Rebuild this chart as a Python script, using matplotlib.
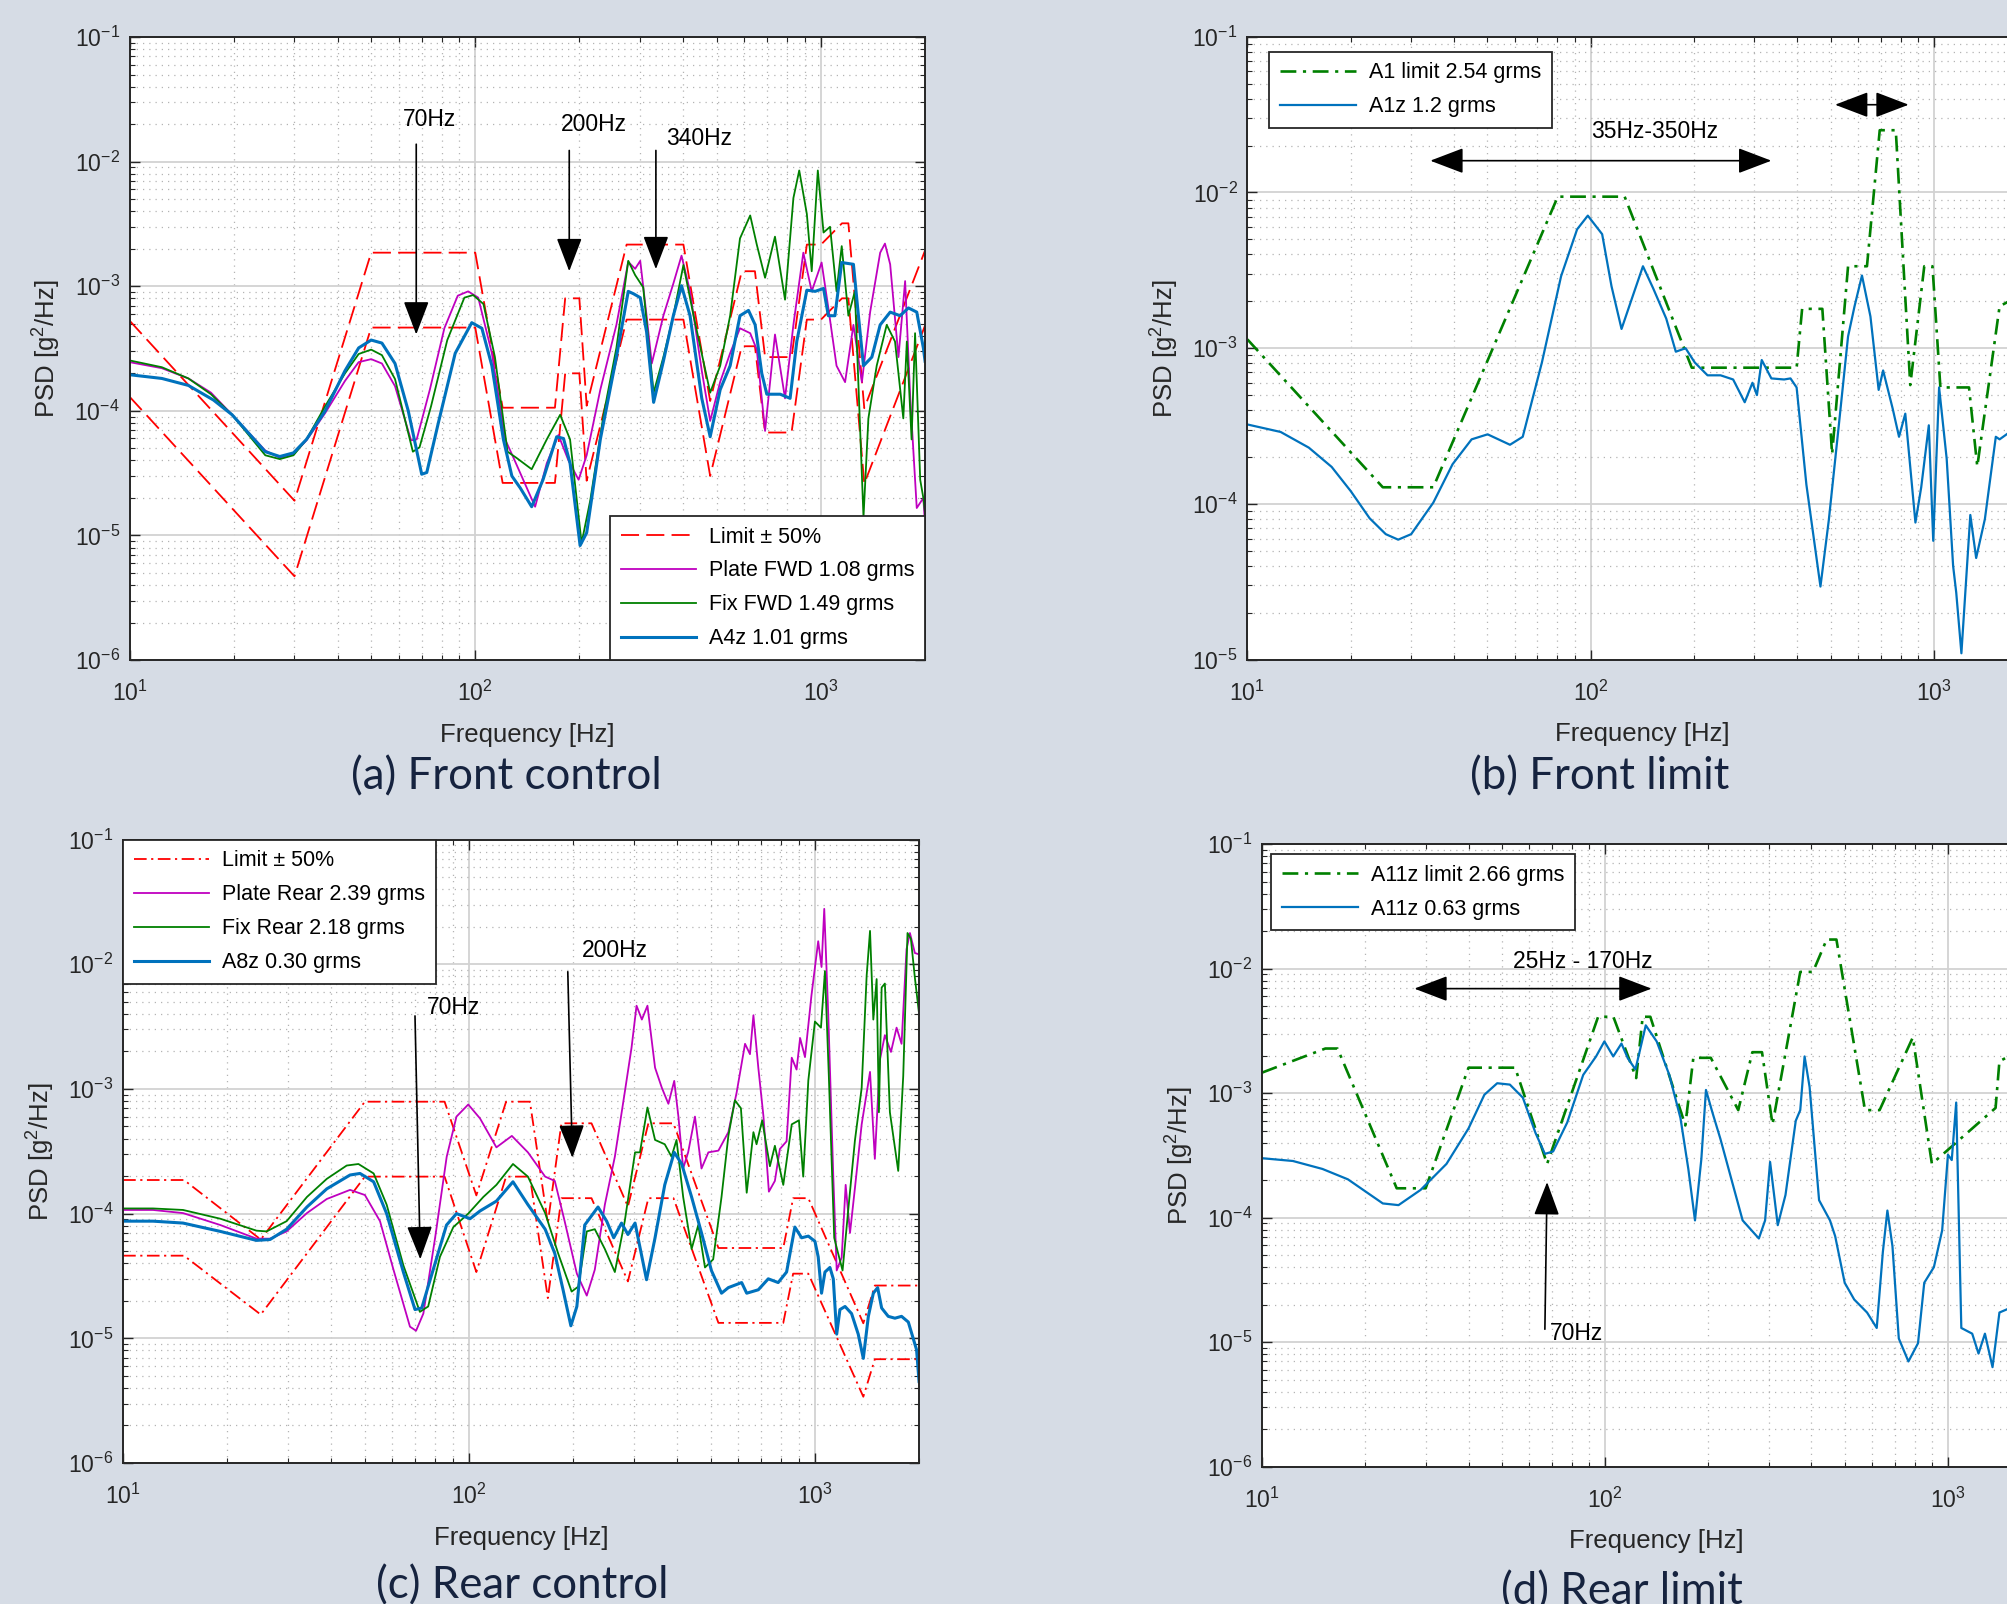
import numpy as np
import matplotlib
matplotlib.use('Agg')
import matplotlib.pyplot as plt
from matplotlib.ticker import LogLocator, NullFormatter

plt.rcParams['font.family'] = 'Liberation Sans'
plt.rcParams['mathtext.fontset'] = 'custom'
plt.rcParams['mathtext.rm'] = 'Liberation Sans'
plt.rcParams['mathtext.it'] = 'Liberation Sans:italic'
plt.rcParams['mathtext.bf'] = 'Liberation Sans:bold'
plt.rcParams['axes.unicode_minus'] = False

RED = '#FF0000'
MAG = '#BF00BF'
GRN = '#008000'
BLUE = '#0072BD'
INK = '#262626'

# ---------------- (a) Front control ----------------
f_lim_a = [10, 30, 50, 100, 120, 170, 182, 200, 210, 274, 400, 478, 590, 644, 689, 822,
           910, 1000, 1150, 1200, 1334, 2000]
up_lim_a = [5.3e-4, 1.9e-5, 1.86e-3, 1.86e-3, 1.06e-4, 1.06e-4, 8.0e-4, 8.0e-4, 1.1e-4, 2.16e-3,
            2.16e-3, 1.2e-4, 1.32e-3, 1.32e-3, 2.7e-4, 2.7e-4, 2.16e-3, 2.16e-3, 3.2e-3, 3.2e-3,
            1.05e-4, 1.94e-3]
lo_lim_a = [1.3e-4, 4.7e-6, 4.66e-4, 4.66e-4, 2.64e-5, 2.64e-5, 2.0e-4, 2.0e-4, 2.75e-5, 5.4e-4,
            5.4e-4, 3.0e-5, 3.3e-4, 3.3e-4, 6.7e-5, 6.7e-5, 5.4e-4, 5.4e-4, 8.0e-4, 8.0e-4,
            2.6e-5, 4.85e-4]

f_plate_a = [10, 12.4, 14.8, 17.2, 19.8, 24.7, 27.2, 29.8, 32.5, 36.8, 42, 46, 50, 53.7, 58.6,
             65.2, 67.7, 73.9, 81.4, 89, 95.4, 102, 111.7, 122, 129, 149, 161, 174, 186, 199,
             210, 230, 256, 277, 290, 300, 313, 324, 350, 374, 395, 418, 452, 478, 511, 546,
             583, 624, 652, 689, 736, 787, 832, 889, 940, 1004, 1050, 1109, 1174, 1241, 1313,
             1387, 1483, 1531, 1585, 1675, 1751, 1812, 1892, 1977, 2000]
psd_plate_a = [2.46e-4, 2.2e-4, 1.82e-4, 1.4e-4, 9.3e-5, 4.8e-5, 4.2e-5, 4.5e-5, 5.8e-5, 9.6e-5,
               1.74e-4, 2.46e-4, 2.6e-4, 2.4e-4, 1.58e-4, 5.8e-5, 5.9e-5, 1.48e-4, 4.6e-4, 8.4e-4,
               9.1e-4, 8.1e-4, 2.9e-4, 5.9e-5, 4.2e-5, 1.7e-5, 3.8e-5, 6.4e-5, 4.0e-5, 2.8e-5,
               4.4e-5, 1.48e-4, 4.9e-4, 1.57e-3, 1.38e-3, 1.6e-3, 5.8e-4, 2.4e-4, 5.8e-4, 1.05e-3,
               1.76e-3, 9.1e-4, 2.1e-4, 8.3e-5, 1.71e-4, 2.9e-4, 4.6e-4, 4.2e-4, 3.1e-4, 6.9e-5,
               4.1e-4, 1.26e-4, 4.9e-4, 1.86e-3, 9.1e-4, 1.55e-3, 6.7e-4, 2.3e-4, 1.7e-4, 4.9e-4,
               1.7e-4, 6.2e-4, 1.86e-3, 2.2e-3, 1.5e-3, 2.7e-4, 1.1e-3, 1.26e-4, 1.66e-5, 2.0e-5,
               1.2e-5]

f_fix_a = [10, 12.4, 14.8, 17.2, 19.8, 24.7, 27.2, 29.8, 32.5, 36.8, 42, 46, 50, 53.7, 58.6, 66,
           69, 74.5, 83, 93, 98.6, 105.6, 114, 124, 131.5, 145.6, 161, 176, 188, 203, 215, 235,
           256, 277, 290, 306, 328, 350, 374, 400, 428, 478, 511, 546, 583, 624, 652, 689, 736,
           787, 832, 865, 910, 940, 979, 1017, 1062, 1109, 1148, 1200, 1253, 1327, 1371, 1449,
           1549, 1637, 1730, 1771, 1828, 1871, 1936, 1977, 2000]
psd_fix_a = [2.54e-4, 2.24e-4, 1.82e-4, 1.36e-4, 9.3e-5, 4.4e-5, 4.1e-5, 4.4e-5, 5.9e-5, 1.09e-4,
             2.0e-4, 2.86e-4, 3.1e-4, 2.8e-4, 1.8e-4, 4.7e-5, 5.1e-5, 1.09e-4, 3.7e-4, 8.1e-4,
             8.5e-4, 7.2e-4, 2.7e-4, 4.7e-5, 4.2e-5, 3.4e-5, 5.9e-5, 9.3e-5, 5.9e-5, 8.7e-6,
             1.9e-5, 9.3e-5, 3.2e-4, 1.6e-3, 1.23e-3, 9.8e-4, 1.4e-4, 2.7e-4, 5.8e-4, 1.48e-3,
             5.8e-4, 1.4e-4, 2.3e-4, 5.8e-4, 2.42e-3, 3.7e-3, 2.16e-3, 1.17e-3, 2.5e-3, 7.8e-4,
             5.1e-3, 8.5e-3, 3.8e-3, 1.32e-3, 8.5e-3, 2.7e-3, 3.0e-3, 9.1e-4, 2.1e-3, 5.8e-4,
             9.1e-4, 1.4e-5, 8.7e-5, 2.3e-4, 4.9e-4, 3.6e-4, 8.7e-5, 3.6e-4, 5.9e-5, 4.2e-4,
             2.8e-5, 2.0e-5, 1.5e-5]

f_a4 = [10, 12.4, 14.8, 17.5, 19.8, 24.7, 27.2, 29.8, 32.5, 36.8, 42, 46, 50, 53.7, 58.6, 64, 70,
        72.4, 78.2, 87.5, 97.7, 104.5, 111.7, 120.6, 127.6, 135, 145.6, 157, 172, 180, 188, 201,
        210, 230, 256, 277, 287, 300, 313, 328, 350, 374, 395, 418, 452, 478, 511, 546, 583, 617,
        645, 674, 697, 762, 814, 851, 910, 962, 1017, 1050, 1097, 1148, 1241, 1283, 1327, 1403,
        1483, 1585, 1694, 1790, 1892, 1977, 2000]
psd_a4 = [1.95e-4, 1.82e-4, 1.6e-4, 1.22e-4, 9.3e-5, 4.7e-5, 4.3e-5, 4.6e-5, 5.9e-5, 1.0e-4,
          2.1e-4, 3.2e-4, 3.7e-4, 3.5e-4, 2.4e-4, 1.0e-4, 3.1e-5, 3.2e-5, 8.0e-5, 2.9e-4,
          5.1e-4, 4.6e-4, 2.3e-4, 5.9e-5, 3.0e-5, 2.4e-5, 1.7e-5, 2.8e-5, 6.2e-5, 6.0e-5,
          3.8e-5, 8.3e-6, 1.05e-5, 5.9e-5, 2.7e-4, 9.1e-4, 8.7e-4, 8.1e-4, 4.3e-4, 1.17e-4,
          2.5e-4, 5.8e-4, 1.01e-3, 5.8e-4, 1.26e-4, 6.2e-5, 1.48e-4, 2.3e-4, 5.8e-4, 6.4e-4,
          4.9e-4, 2.0e-4, 1.36e-4, 1.36e-4, 1.26e-4, 3.6e-4, 9.3e-4, 9.1e-4, 9.6e-4, 5.8e-4,
          5.8e-4, 1.55e-3, 1.5e-3, 5.8e-4, 2.3e-4, 2.7e-4, 4.9e-4, 6.2e-4, 5.8e-4, 6.7e-4,
          6.2e-4, 3.2e-4, 2.5e-4]

# ---------------- (b) Front limit ----------------
f_lim_b = [10, 24.8, 34.8, 80.2, 125.6, 197, 398, 413, 473, 505, 562, 638, 695, 774, 853, 937,
           990, 1044, 1265, 1337, 1553, 2000]
lim_b = [1.14e-3, 1.28e-4, 1.28e-4, 9.4e-3, 9.4e-3, 7.5e-4, 7.5e-4, 1.79e-3, 1.79e-3, 2.09e-4,
         3.36e-3, 3.36e-3, 0.0251, 0.0251, 5.8e-4, 3.36e-3, 3.36e-3, 5.6e-4, 5.6e-4, 1.74e-4,
         1.86e-3, 2.5e-3]

f_a1 = [10, 12.5, 15.1, 17.6, 20, 22.7, 25.3, 27.5, 30, 34.8, 39.6, 45, 50.1, 58.2, 63.4, 72.1,
        82, 91.3, 98.1, 108, 115, 123, 131, 142, 152, 166, 177, 189, 201, 219, 239, 260, 281,
        296, 305, 315, 336, 366, 382, 398, 425, 467, 494, 527, 562, 587, 617, 653, 690, 711, 758,
        791, 825, 883, 918, 966, 995, 1035, 1089, 1137, 1161, 1202, 1276, 1327, 1407, 1514, 1553,
        1700, 2000]
psd_a1 = [3.24e-4, 2.9e-4, 2.3e-4, 1.73e-4, 1.21e-4, 8.1e-5, 6.4e-5, 5.9e-5, 6.4e-5, 1.02e-4,
          1.8e-4, 2.6e-4, 2.8e-4, 2.4e-4, 2.7e-4, 8.1e-4, 2.9e-3, 5.8e-3, 7.1e-3, 5.4e-3, 2.5e-3,
          1.33e-3, 2.0e-3, 3.36e-3, 2.43e-3, 1.55e-3, 9.5e-4, 1.0e-3, 8.1e-4, 6.7e-4, 6.7e-4,
          6.3e-4, 4.5e-4, 6.0e-4, 5.0e-4, 8.4e-4, 6.4e-4, 6.3e-4, 6.4e-4, 5.6e-4, 1.33e-4,
          2.95e-5, 7.9e-5, 3.05e-4, 1.19e-3, 1.86e-3, 2.93e-3, 1.6e-3, 5.4e-4, 7.2e-4, 4.1e-4,
          2.7e-4, 3.8e-4, 7.6e-5, 1.28e-4, 3.2e-4, 5.8e-5, 5.6e-4, 1.95e-4, 4.0e-5, 2.7e-5,
          1.1e-5, 8.5e-5, 4.5e-5, 8.0e-5, 2.7e-4, 2.6e-4, 3.0e-4, 2.0e-4]

# ---------------- (c) Rear control ----------------
f_lim_c = [10, 15, 25, 50, 85, 105, 128, 150, 169, 185, 226, 288, 330, 390, 526, 810, 865, 957,
           1380, 1490, 2000]
up_lim_c = [1.86e-4, 1.86e-4, 6.2e-5, 7.9e-4, 7.9e-4, 1.4e-4, 7.9e-4, 7.9e-4, 8.4e-5, 5.3e-4,
            5.3e-4, 1.14e-4, 5.3e-4, 5.3e-4, 5.3e-5, 5.3e-5, 1.33e-4, 1.33e-4, 1.32e-5, 2.65e-5,
            2.65e-5]
lo_lim_c = [4.6e-5, 4.6e-5, 1.55e-5, 1.98e-4, 1.98e-4, 3.4e-5, 1.98e-4, 1.98e-4, 2.1e-5, 1.33e-4,
            1.33e-4, 2.86e-5, 1.33e-4, 1.33e-4, 1.33e-5, 1.33e-5, 3.3e-5, 3.3e-5, 3.4e-6, 6.8e-6,
            6.8e-6]

f_plate_c = [10, 12.2, 14.9, 19.1, 24.3, 26.6, 29.7, 34, 38.8, 45.3, 50, 55.3, 60.4, 67.5, 70.3,
             73.8, 79.8, 86.2, 92, 99.5, 107.6, 120, 133, 148, 166, 177, 189, 205, 219, 231, 247,
             264, 282, 295, 305, 316, 328, 345, 361, 377, 392, 403, 416, 430, 450, 470, 492, 526,
             562, 594, 628, 649, 664, 686, 710, 736, 766, 792, 828, 857, 885, 906, 936, 977, 1022,
             1045, 1064, 1093, 1130, 1156, 1195, 1227, 1263, 1305, 1365, 1443, 1490, 1541, 1593,
             1659, 1722, 1780, 1840, 1882, 1945, 2000]
psd_plate_c = [1.07e-4, 1.07e-4, 1.01e-4, 8.1e-5, 6.3e-5, 6.3e-5, 7.2e-5, 1.01e-4, 1.31e-4,
               1.55e-4, 1.41e-4, 8.7e-5, 3.6e-5, 1.24e-5, 1.15e-5, 1.58e-5, 6.4e-5, 2.86e-4,
               6.0e-4, 7.5e-4, 5.8e-4, 3.4e-4, 4.2e-4, 3.1e-4, 1.98e-4, 1.83e-4, 8.7e-5, 3.3e-5,
               2.2e-5, 3.55e-5, 1.18e-4, 2.86e-4, 9.4e-4, 2.14e-3, 4.65e-3, 3.6e-3, 4.65e-3,
               1.48e-3, 1.02e-3, 7.6e-4, 1.16e-3, 6.0e-4, 2.3e-4, 3.1e-4, 6.0e-4, 2.3e-4, 3.1e-4,
               3.2e-4, 4.5e-4, 9.4e-4, 2.3e-3, 1.9e-3, 3.9e-3, 1.48e-3, 6.0e-4, 1.5e-4, 1.83e-4,
               3.3e-4, 3.8e-4, 1.78e-3, 1.43e-3, 2.56e-3, 1.8e-3, 5.6e-3, 0.0153, 9.5e-3, 0.0278,
               3.9e-3, 1.98e-4, 3.5e-5, 4.45e-5, 1.7e-4, 7.0e-5, 1.6e-4, 5.2e-4, 1.37e-3, 2.75e-4,
               1.71e-3, 2.7e-3, 1.98e-3, 3.1e-3, 2.3e-3, 0.0132, 0.0178, 0.0123, 0.012]

f_fix_c = [10, 12.2, 14.9, 19.1, 24.3, 26, 29.7, 34, 38.8, 44.3, 47.9, 53, 57.8, 64.6, 72.1, 76.2,
           82.4, 90.1, 99.5, 110, 120, 134, 148, 166, 181, 198, 207, 219, 231, 247, 264, 282, 302,
           312, 328, 345, 368, 385, 398, 416, 440, 460, 481, 508, 537, 562, 587, 611, 635, 664,
           678, 704, 741, 766, 810, 857, 899, 925, 957, 1000, 1041, 1069, 1097, 1137, 1167, 1202,
           1249, 1305, 1365, 1411, 1443, 1475, 1508, 1531, 1559, 1593, 1647, 1741, 1800, 1852,
           1894, 1945, 1996]
psd_fix_c = [1.1e-4, 1.1e-4, 1.07e-4, 9.1e-5, 7.3e-5, 7.2e-5, 8.7e-5, 1.36e-4, 1.9e-4, 2.43e-4,
             2.5e-4, 2.1e-4, 1.18e-4, 3.85e-5, 1.63e-5, 1.8e-5, 4.5e-5, 7.8e-5, 1.0e-4, 1.36e-4,
             1.7e-4, 2.5e-4, 1.98e-4, 1.01e-4, 4.8e-5, 2.37e-5, 2.6e-5, 7.2e-5, 7.5e-5, 5.2e-5,
             3.4e-5, 8.7e-5, 3.1e-4, 3.1e-4, 7.1e-4, 3.9e-4, 3.6e-4, 2.86e-4, 3.9e-4, 1.36e-4,
             5.2e-5, 8.1e-5, 3.7e-5, 4.3e-5, 1.36e-4, 4.2e-4, 8.1e-4, 7.0e-4, 1.47e-4, 4.5e-4,
             3.6e-4, 5.6e-4, 2.4e-4, 3.5e-4, 1.7e-4, 5.2e-4, 5.6e-4, 1.98e-4, 1.17e-3, 3.47e-3,
             3.1e-3, 8.8e-3, 1.27e-3, 6.4e-5, 4.8e-5, 3.5e-5, 1.09e-4, 3.86e-4, 1.02e-3, 8.1e-3,
             0.0185, 3.6e-3, 7.6e-3, 6.5e-4, 6.5e-3, 7.0e-3, 6.5e-4, 2.2e-4, 1.27e-3, 0.0178,
             0.016, 7.8e-3, 4.2e-3]

f_a8 = [10, 12.2, 14.9, 19.1, 24.3, 26.6, 29.7, 34, 38.8, 45.3, 48.4, 53, 57.8, 64.6, 69.8, 73,
        78.9, 86.1, 92, 100.7, 107.6, 120, 134, 148, 166, 177, 187, 197, 205, 216, 236, 250, 262,
        276, 288, 302, 326, 345, 368, 392, 412, 440, 470, 502, 537, 562, 614, 635, 686, 733, 783,
        828, 875, 915, 957, 1000, 1022, 1045, 1069, 1105, 1130, 1156, 1181, 1222, 1276, 1334,
        1380, 1427, 1475, 1518, 1559, 1629, 1703, 1780, 1862, 1923, 1967, 2000]
psd_a8 = [8.7e-5, 8.7e-5, 8.4e-5, 7.2e-5, 6.1e-5, 6.2e-5, 7.5e-5, 1.13e-4, 1.58e-4, 2.04e-4,
          2.1e-4, 1.8e-4, 1.0e-4, 3.4e-5, 1.7e-5, 1.75e-5, 3.6e-5, 8.1e-5, 1.0e-4, 9.1e-5,
          1.05e-4, 1.26e-4, 1.8e-4, 1.18e-4, 7.5e-5, 4.8e-5, 2.45e-5, 1.26e-5, 1.8e-5, 8.1e-5,
          1.13e-4, 8.7e-5, 6.4e-5, 8.4e-5, 6.8e-5, 8.4e-5, 2.95e-5, 6.4e-5, 1.7e-4, 3.1e-4,
          2.5e-4, 1.36e-4, 7.0e-5, 3.5e-5, 2.3e-5, 2.55e-5, 2.8e-5, 2.3e-5, 2.45e-5, 3.0e-5,
          2.8e-5, 3.4e-5, 7.8e-5, 6.4e-5, 6.6e-5, 6.0e-5, 4.5e-5, 2.3e-5, 3.4e-5, 3.7e-5,
          3.0e-5, 1.08e-5, 1.7e-5, 1.8e-5, 1.58e-5, 1.08e-5, 6.9e-6, 1.5e-5, 2.3e-5, 2.55e-5,
          1.75e-5, 1.5e-5, 1.45e-5, 1.5e-5, 1.35e-5, 1.0e-5, 8.1e-6, 4.5e-6]

# ---------------- (d) Rear limit ----------------
f_lim_d = [10, 15.3, 16.6, 24.7, 30, 40, 54.7, 67.8, 95.5, 105.8, 123.3, 128.8, 135.6, 171.5, 181,
           203.5, 244.7, 269, 287, 308, 371, 404, 443, 473, 573, 632, 790, 898, 1377, 1413, 2000]
lim_d = [1.46e-3, 2.28e-3, 2.28e-3, 1.72e-4, 1.72e-4, 1.6e-3, 1.6e-3, 2.7e-4, 4.1e-3, 4.1e-3,
         1.32e-3, 4.1e-3, 4.1e-3, 5.5e-4, 1.92e-3, 1.92e-3, 7.3e-4, 2.13e-3, 2.13e-3, 5.6e-4,
         9.4e-3, 9.4e-3, 0.0171, 0.0171, 7.3e-4, 7.3e-4, 2.8e-3, 2.7e-4, 7.6e-4, 1.8e-3, 3.0e-3]

f_a11 = [10, 12.3, 15, 17.8, 22.5, 25, 29, 34.5, 40, 44.5, 48.5, 52.8, 57.6, 62.7, 66.8, 70.6,
         77.6, 86.4, 94.2, 99.6, 105.7, 111.7, 116.6, 122.7, 131.5, 141.5, 154, 166, 175, 183,
         191, 197, 206, 217, 236, 252, 281, 293, 303, 319, 336, 360, 371, 382, 395, 421, 453, 469,
         500, 533, 581, 620, 646, 666, 689, 719, 767, 818, 853, 910, 962, 1000, 1026, 1057, 1094,
         1177, 1228, 1282, 1349, 1413, 1600, 2000]
psd_a11 = [3.0e-4, 2.85e-4, 2.46e-4, 2.03e-4, 1.3e-4, 1.26e-4, 1.67e-4, 2.7e-4, 5.2e-4, 9.7e-4,
           1.2e-3, 1.17e-3, 9.2e-4, 4.8e-4, 3.25e-4, 3.4e-4, 5.8e-4, 1.4e-3, 1.97e-3, 2.6e-3,
           1.97e-3, 2.5e-3, 1.9e-3, 1.55e-3, 3.5e-3, 2.6e-3, 1.4e-3, 6.3e-4, 2.46e-4, 9.5e-5,
           2.96e-4, 1.06e-3, 6.9e-4, 4.3e-4, 1.84e-4, 9.5e-5, 6.8e-5, 9.5e-5, 2.8e-4, 8.7e-5,
           1.52e-4, 6.0e-4, 7.3e-4, 1.97e-3, 1.12e-3, 1.38e-4, 9.5e-5, 7.1e-5, 3.0e-5, 2.2e-5,
           1.73e-5, 1.3e-5, 5.3e-5, 1.14e-4, 5.9e-5, 1.07e-5, 7.0e-6, 9.8e-6, 3.0e-5, 4.0e-5,
           7.9e-5, 3.2e-4, 2.9e-4, 8.4e-4, 1.3e-5, 1.17e-5, 8.1e-6, 1.17e-5, 6.3e-6, 1.73e-5,
           2.0e-5, 2.0e-5]


def style_axes(ax, ymin):
    ax.set_xscale('log')
    ax.set_yscale('log')
    ax.set_xlim(10, 2000)
    ax.set_ylim(ymin, 1e-1)
    ax.xaxis.set_major_locator(LogLocator(base=10, numticks=20))
    ax.yaxis.set_major_locator(LogLocator(base=10, numticks=20))
    ax.xaxis.set_minor_locator(LogLocator(base=10, subs=np.arange(2, 10) * 1.0, numticks=50))
    ax.yaxis.set_minor_locator(LogLocator(base=10, subs=np.arange(2, 10) * 1.0, numticks=50))
    ax.xaxis.set_minor_formatter(NullFormatter())
    ax.yaxis.set_minor_formatter(NullFormatter())
    ax.grid(True, which='major', color='#d2d2d2', lw=1.3, ls='-')
    ax.grid(True, which='minor', color='#b4b4b4', lw=0.9, ls=(0, (1, 4)))
    ax.set_axisbelow(True)
    ax.tick_params(which='both', direction='in', top=True, right=True, colors=INK)
    ax.tick_params(axis='x', which='major', length=7, width=1, labelsize=16.5, pad=15)
    ax.tick_params(axis='y', which='major', length=7, width=1, labelsize=16.5, pad=7)
    ax.tick_params(which='minor', length=3.5, width=0.8)
    for s in ax.spines.values():
        s.set_linewidth(1.4)
        s.set_color(INK)
    ax.set_xlabel('Frequency [Hz]', fontsize=18.5, color=INK, labelpad=12)
    ax.set_ylabel('PSD [g$^2$/Hz]', fontsize=18.5, color=INK, labelpad=8)


def arrow(ax, start, end, both=False):
    ax.annotate('', xy=end, xytext=start,
                arrowprops=dict(arrowstyle=('<|-|>' if both else '-|>') + ',head_length=1.05,head_width=0.4',
                                color='black', lw=1.2, mutation_scale=20,
                                shrinkA=0, shrinkB=0))


def legend(ax, **kw):
    leg = ax.legend(fontsize=15.5, fancybox=False, framealpha=1, edgecolor=INK,
                    handlelength=3.5, handletextpad=0.6, labelspacing=0.6,
                    borderpad=0.5, borderaxespad=0, **kw)
    leg.get_frame().set_linewidth(1.3)
    return leg


fig = plt.figure(figsize=(20.08, 16.04), dpi=100, facecolor='#D6DCE5')

ax_a = fig.add_axes([0.0645, 0.5885, 0.3962, 0.3884])
ax_b = fig.add_axes([0.6212, 0.5887, 0.3934, 0.3884])
ax_c = fig.add_axes([0.0613, 0.0879, 0.3964, 0.3887])
ax_d = fig.add_axes([0.6285, 0.0856, 0.3930, 0.3882])

# (a)
style_axes(ax_a, 1e-6)
ax_a.plot(f_lim_a, up_lim_a, color=RED, lw=1.3, dashes=(10, 4), label='Limit ± 50%')
ax_a.plot(f_lim_a, lo_lim_a, color=RED, lw=1.3, dashes=(10, 4))
ax_a.plot(f_plate_a, psd_plate_a, color=MAG, lw=1.3, label='Plate FWD 1.08 grms')
ax_a.plot(f_fix_a, psd_fix_a, color=GRN, lw=1.3, label='Fix FWD 1.49 grms')
ax_a.plot(f_a4, psd_a4, color=BLUE, lw=2.2, label='A4z 1.01 grms')
legend(ax_a, loc='lower right', bbox_to_anchor=(1, 0))
ax_a.text(73.6, 0.0216, '70Hz', fontsize=16.5, ha='center', va='center')
ax_a.text(220, 0.020, '200Hz', fontsize=16.5, ha='center', va='center')
ax_a.text(444, 0.0154, '340Hz', fontsize=16.5, ha='center', va='center')
arrow(ax_a, (67.5, 0.0138), (67.5, 4.1e-4))
arrow(ax_a, (187, 0.0123), (187, 1.32e-3))
arrow(ax_a, (333, 0.0123), (333, 1.37e-3))

# (b)
style_axes(ax_b, 1e-5)
ax_b.plot(f_lim_b, lim_b, color=GRN, lw=1.9, dashes=(6, 2.5, 1.2, 2.5), label='A1 limit 2.54 grms')
ax_b.plot(f_a1, psd_a1, color=BLUE, lw=1.6, label='A1z 1.2 grms')
legend(ax_b, loc='upper left', bbox_to_anchor=(0.028, 0.976))
ax_b.text(154, 0.0246, '35Hz-350Hz', fontsize=16.5, ha='center', va='center')
arrow(ax_b, (34.1, 0.016), (336, 0.016), both=True)
arrow(ax_b, (515, 0.0366), (844, 0.0366), both=True)

# (c)
style_axes(ax_c, 1e-6)
ax_c.plot(f_lim_c, up_lim_c, color=RED, lw=1.3, dashes=(7, 2.5, 1.2, 2.5), label='Limit ± 50%')
ax_c.plot(f_lim_c, lo_lim_c, color=RED, lw=1.3, dashes=(7, 2.5, 1.2, 2.5))
ax_c.plot(f_plate_c, psd_plate_c, color=MAG, lw=1.3, label='Plate Rear 2.39 grms')
ax_c.plot(f_fix_c, psd_fix_c, color=GRN, lw=1.3, label='Fix Rear 2.18 grms')
ax_c.plot(f_a8, psd_a8, color=BLUE, lw=2.2, label='A8z 0.30 grms')
legend(ax_c, loc='upper left', bbox_to_anchor=(0, 1))
ax_c.text(75.5, 4.5e-3, '70Hz', fontsize=16.5, ha='left', va='center')
ax_c.text(212, 0.0129, '200Hz', fontsize=16.5, ha='left', va='center')
arrow(ax_c, (69.8, 3.85e-3), (72.3, 4.3e-5))
arrow(ax_c, (193, 8.7e-3), (199, 2.8e-4))

# (d)
style_axes(ax_d, 1e-6)
ax_d.plot(f_lim_d, lim_d, color=GRN, lw=1.9, dashes=(6, 2.5, 1.2, 2.5), label='A11z limit 2.66 grms')
ax_d.plot(f_a11, psd_a11, color=BLUE, lw=1.6, label='A11z 0.63 grms')
legend(ax_d, loc='upper left', bbox_to_anchor=(0.012, 0.984))
ax_d.text(86, 0.0114, '25Hz - 170Hz', fontsize=16.5, ha='center', va='center')
arrow(ax_d, (27.8, 6.9e-3), (136.7, 6.9e-3), both=True)
ax_d.text(68.9, 1.17e-5, '70Hz', fontsize=16.5, ha='left', va='center')
arrow(ax_d, (66.8, 1.27e-5), (67.8, 1.93e-4))

# captions
cap = dict(fontsize=31.5, family='Lato', color='#16233F', ha='center', va='center')
fig.text(0.252, 0.5156, '(a) Front control', **cap)
fig.text(0.7968, 0.5156, '(b) Front limit', **cap)
fig.text(0.260, 0.0112, '(c) Rear control', **cap)
fig.text(0.8078, 0.0075, '(d) Rear limit', **cap)

fig.savefig('out.png', dpi=100, facecolor=fig.get_facecolor())
